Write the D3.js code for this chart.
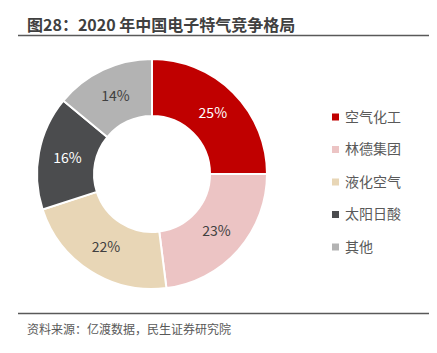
<!DOCTYPE html>
<html>
<head>
<meta charset="utf-8">
<script src="https://cdn.jsdelivr.net/npm/d3@7"></script>
<style>
  body { margin: 0; background: #fff; }
  svg { font-family: "Microsoft YaHei", "Noto Sans CJK SC", sans-serif; }
</style>
</head>
<body>
<svg id="chart" width="437" height="353"></svg>
<script>
var names = ["空气化工", "林德集团", "液化空气", "太阳日酸", "其他"];
var shares = [25, 23, 22, 16, 14];
var colours = ["#c00000", "#ecc4c4", "#e8d6b6", "#4b4c4e", "#b3b3b3"];
var labelColours = ["#ffffff", "#404040", "#404040", "#ffffff", "#404040"];

var svg = d3.select("#chart");

// title and rules
svg.append("text")
    .attr("x", 27).attr("y", 31)
    .style("font-size", "16px").style("font-weight", "bold")
    .style("fill", "#404040")
    .text("图28：2020 年中国电子特气竞争格局");

svg.append("line")
    .attr("x1", 18).attr("x2", 429).attr("y1", 35.5).attr("y2", 35.5)
    .style("stroke", "#595959").style("stroke-width", 1.5);

svg.append("line")
    .attr("x1", 18).attr("x2", 429).attr("y1", 313.5).attr("y2", 313.5)
    .style("stroke", "#595959").style("stroke-width", 1.5);

svg.append("text")
    .attr("x", 27).attr("y", 334)
    .style("font-size", "12px").style("fill", "#595959")
    .text("资料来源：亿渡数据，民生证券研究院");

// donut
var outerR = 115, innerR = 58;
var g = svg.append("g").attr("transform", "translate(152,174)");

var pie = d3.pie().sort(null).value(function(d) { return d; });
var arc = d3.arc().innerRadius(innerR).outerRadius(outerR);
var labelArc = d3.arc().innerRadius(86).outerRadius(86);

var arcs = pie(shares);

g.selectAll("path")
    .data(arcs)
    .enter().append("path")
    .attr("d", arc)
    .style("fill", function(d, i) { return colours[i]; })
    .style("stroke", "#fff")
    .style("stroke-width", 2);

g.selectAll("text")
    .data(arcs)
    .enter().append("text")
    .attr("transform", function(d) { return "translate(" + labelArc.centroid(d) + ")"; })
    .attr("text-anchor", "middle")
    .attr("dy", "0.35em")
    .style("font-size", "14px")
    .style("fill", function(d, i) { return labelColours[i]; })
    .text(function(d) { return d.data + "%"; });

// legend
var legend = svg.append("g");
names.forEach(function(name, i) {
    var y = 117 + i * 32.5;
    legend.append("rect")
        .attr("x", 332).attr("y", y - 3.5)
        .attr("width", 7).attr("height", 7)
        .style("fill", colours[i]);
    legend.append("text")
        .attr("x", 345).attr("y", y)
        .attr("dy", "0.35em")
        .style("font-size", "14px").style("fill", "#595959")
        .text(name);
});
</script>
</body>
</html>
